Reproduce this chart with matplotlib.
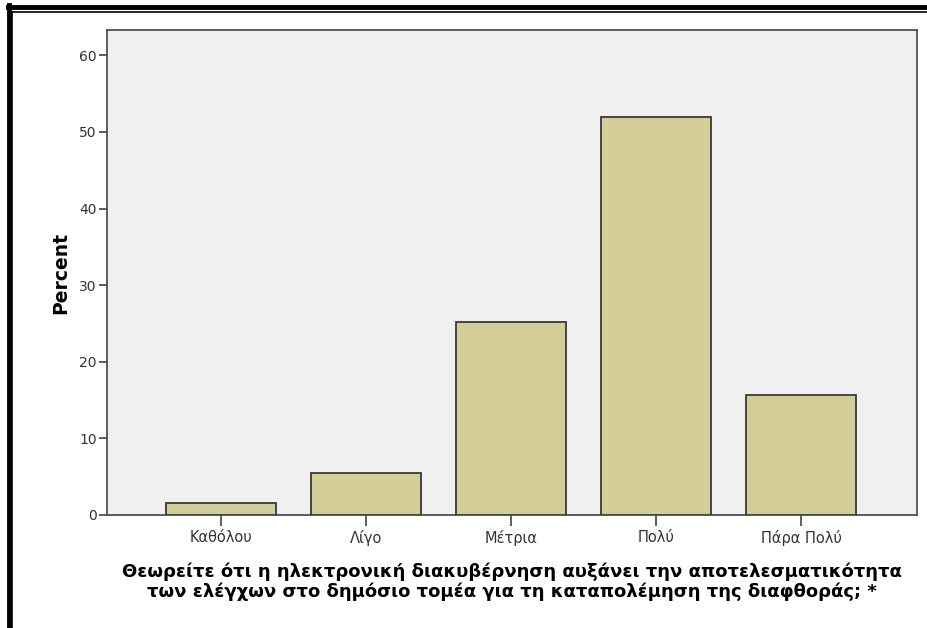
import matplotlib
matplotlib.use("Agg")
import matplotlib.pyplot as plt
from matplotlib.lines import Line2D

# === dati ===
categories = ['Καθόλου', 'Λίγο', 'Μέτρια', 'Πολύ', 'Πάρα Πολύ']
percent = [1.6, 5.5, 25.2, 52.0, 15.7]
y_ticks = [0, 10, 20, 30, 40, 50, 60]
x_title = ('Θεωρείτε ότι η ηλεκτρονική διακυβέρνηση αυξάνει την αποτελεσματικότητα\n'
           'των ελέγχων στο δημόσιο τομέα για τη καταπολέμηση της διαφθοράς; *')

plt.rcParams['font.family'] = ['DejaVu Sans']

fig = plt.figure(figsize=(9.28, 6.28), dpi=100)
fig.patch.set_facecolor('white')

# cornice esterna (solo lati superiore e sinistro visibili)
W, H = 928, 628
def fx(px):
    return px / W
def fy(py):
    return 1 - py / H
fig.add_artist(Line2D([fx(8), 1.01], [fy(7), fy(7)], color='black', lw=3.5))
fig.add_artist(Line2D([fx(9.5), fx(9.5)], [fy(5), -0.01], color='black', lw=3.5))
fig.add_artist(Line2D([fx(12.5), 1.01], [fy(11.5), fy(11.5)], color='black', lw=1.2))
fig.add_artist(Line2D([fx(12.5), fx(12.5)], [fy(11.5), -0.01], color='black', lw=1.2))

ax = fig.add_axes([fx(107), fy(515), fx(917) - fx(107), fy(30) - fy(515)])
ax.set_facecolor('#F0F0F0')

x = list(range(len(categories)))
ax.bar(x, percent, width=0.76, color='#D3CE97', edgecolor='#3a3a3a', linewidth=1.3, zorder=3)

ax.set_xlim(-0.786, 4.8)
ax.set_ylim(0, 63.3)
ax.set_yticks(y_ticks)
ax.set_xticks(x)
ax.set_xticklabels(categories)

for s in ax.spines.values():
    s.set_color('#505050')
    s.set_linewidth(1.3)

ax.tick_params(axis='y', length=6, width=1.3, color='#505050', labelsize=10,
               labelcolor='#333333', pad=1.5)
ax.tick_params(axis='x', length=8, width=1.3, color='#505050', labelsize=10.5,
               labelcolor='#333333', pad=3)

ax.set_ylabel('Percent', fontsize=13.5, fontweight='bold', labelpad=6)
ax.set_xlabel(x_title, fontsize=13, fontweight='bold', labelpad=12, linespacing=1.05)

fig.savefig('out.png', dpi=100, facecolor='white')
